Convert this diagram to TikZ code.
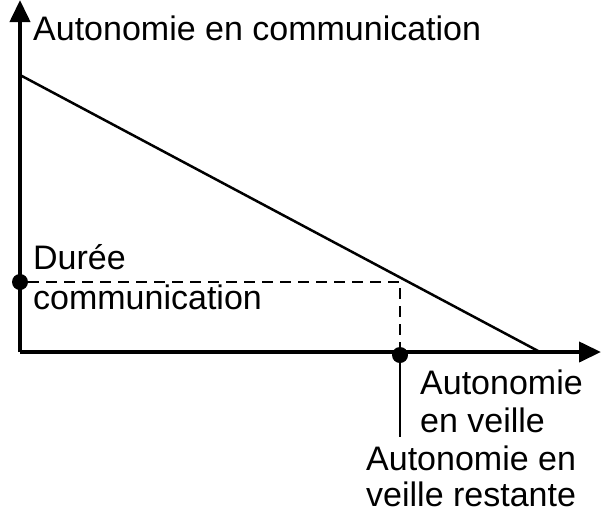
\documentclass[tikz,border=0pt]{standalone}
\usepackage{fontspec}
\setmainfont{Liberation Sans}
\usetikzlibrary{arrows.meta}
\begin{document}
\begin{tikzpicture}[x=1pt,y=-1pt,
  lbl/.style={anchor=west,font=\fontsize{34}{38}\selectfont,inner sep=0pt},
  dot/.style={circle,fill,inner sep=0pt,minimum size=16pt}]
\useasboundingbox (0,0) rectangle (601,512);
% axes
\coordinate (o) at (20,352);
\coordinate (ytip) at (20,0);
\coordinate (xtip) at (601,352);
\draw[line width=4pt,-{Triangle[length=22pt,width=20pt]}] (o) -- (ytip);
\draw[line width=4pt,-{Triangle[length=22pt,width=20pt]}] (o) -- (xtip);
% decreasing line
\coordinate (a) at (20,75);
\coordinate (b) at (540,352);
\draw[line width=2.5pt] (a) -- (b);
% dashed reading
\node[dot] (d1) at (20,282) {};
\node[dot] (d2) at (400,355) {};
\coordinate (p) at (400,282);
\draw[line width=2.5pt,dash pattern=on 11pt off 7pt] (d1) -- (p) -- (d2);
\coordinate (t) at (400,437);
\draw[line width=2.5pt] (d2) -- (t);
% labels
\node[lbl] (ly) at (33,28) {Autonomie en communication};
\node[lbl,align=left,font=\fontsize{34}{40}\selectfont] (ld) at (33,277) {Durée\\communication};
\node[lbl,align=left] (lx) at (420,401) {Autonomie\\en veille};
\node[lbl,align=left,font=\fontsize{34}{36}\selectfont] (lr) at (366,476) {Autonomie en\\veille restante};
\end{tikzpicture}
\end{document}
